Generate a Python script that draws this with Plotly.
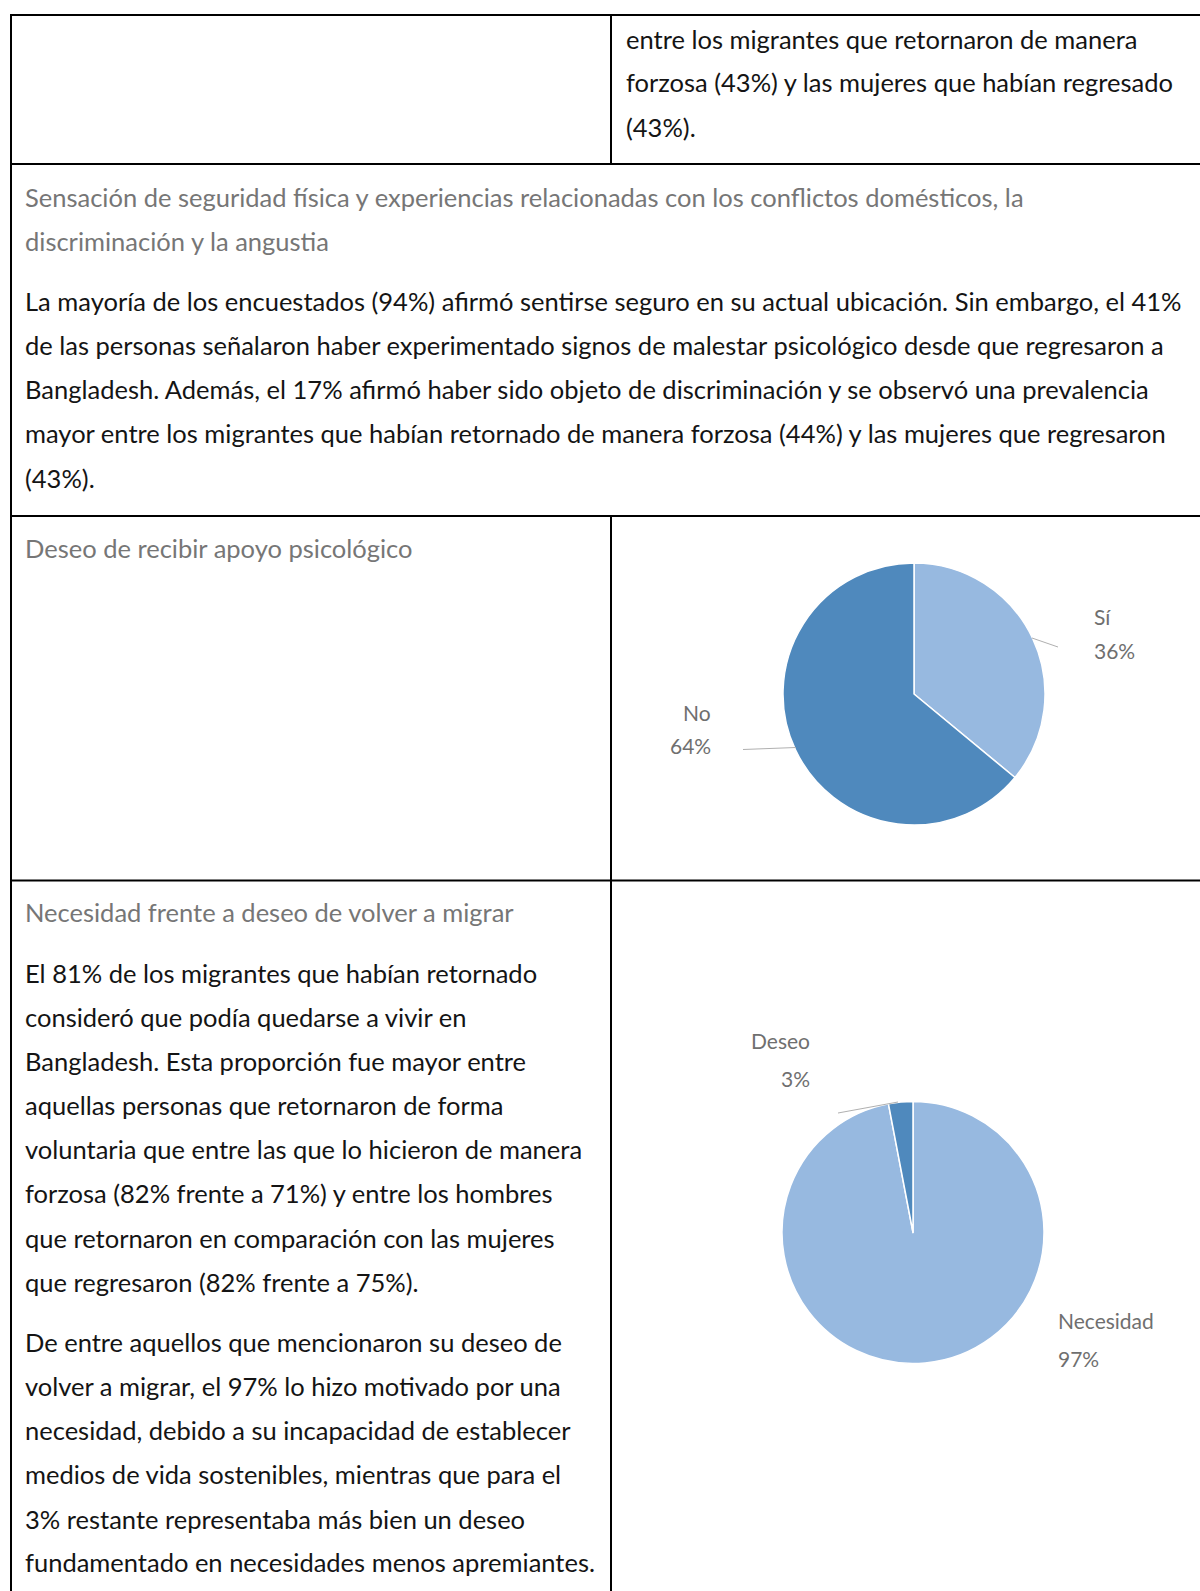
import plotly.graph_objects as go

W, H = 1200, 1591
FONT = "Lato"
TEXT_COLOR = "#141414"
HEAD_COLOR = "#767676"
LABEL_COLOR = "#6f6f6f"
LIGHT = "#97B9E0"
DARK = "#4F89BD"
BODY_SIZE = 25.5
LABEL_SIZE = 21

# ---- data ----
pie1_labels = ["Sí", "No"]
pie1_values = [36, 64]
pie2_labels = ["Necesidad", "Deseo"]
pie2_values = [97, 3]

row1_lines = [
    "entre los migrantes que retornaron de manera",
    "forzosa (43%) y las mujeres que habían regresado",
    "(43%).",
]
row2_head = [
    "Sensación de seguridad física y experiencias relacionadas con los conflictos domésticos, la",
    "discriminación y la angustia",
]
row2_lines = [
    "La mayoría de los encuestados (94%) afirmó sentirse seguro en su actual ubicación. Sin embargo, el 41%",
    "de las personas señalaron haber experimentado signos de malestar psicológico desde que regresaron a",
    "Bangladesh. Además, el 17% afirmó haber sido objeto de discriminación y se observó una prevalencia",
    "mayor entre los migrantes que habían retornado de manera forzosa (44%) y las mujeres que regresaron",
    "(43%).",
]
row3_head = ["Deseo de recibir apoyo psicológico"]
row4_head = ["Necesidad frente a deseo de volver a migrar"]
row4_para1 = [
    "El 81% de los migrantes que habían retornado",
    "consideró que podía quedarse a vivir en",
    "Bangladesh. Esta proporción fue mayor entre",
    "aquellas personas que retornaron de forma",
    "voluntaria que entre las que lo hicieron de manera",
    "forzosa (82% frente a 71%) y entre los hombres",
    "que retornaron en comparación con las mujeres",
    "que regresaron (82% frente a 75%).",
]
row4_para2 = [
    "De entre aquellos que mencionaron su deseo de",
    "volver a migrar, el 97% lo hizo motivado por una",
    "necesidad, debido a su incapacidad de establecer",
    "medios de vida sostenibles, mientras que para el",
    "3% restante representaba más bien un deseo",
    "fundamentado en necesidades menos apremiantes.",
]


def px(x):
    return x / W


def py(y):
    return 1 - y / H


fig = go.Figure()

fig.add_trace(go.Pie(
    labels=pie1_labels, values=pie1_values, sort=False, direction="clockwise",
    rotation=0, textinfo="none", hoverinfo="label+percent",
    marker=dict(colors=[LIGHT, DARK], line=dict(color="white", width=1.5)),
    domain=dict(x=[px(783), px(1045)], y=[py(825), py(563)]),
    showlegend=False,
))
fig.add_trace(go.Pie(
    labels=pie2_labels, values=pie2_values, sort=False, direction="clockwise",
    rotation=0, textinfo="none", hoverinfo="label+percent",
    marker=dict(colors=[LIGHT, DARK], line=dict(color="white", width=1.5)),
    domain=dict(x=[px(782), px(1044)], y=[py(1363.5), py(1101.5)]),
    showlegend=False,
))

shapes = []


def hline(y, x0=11, x1=1200):
    shapes.append(dict(type="line", xref="paper", yref="paper",
                       x0=px(x0), x1=px(x1), y0=py(y), y1=py(y),
                       line=dict(color="black", width=2)))


def vline(x, y0, y1):
    shapes.append(dict(type="line", xref="paper", yref="paper",
                       x0=px(x), x1=px(x), y0=py(y0), y1=py(y1),
                       line=dict(color="black", width=2)))


def leader(x0, y0, x1, y1):
    shapes.append(dict(type="line", xref="paper", yref="paper",
                       x0=px(x0), x1=px(x1), y0=py(y0), y1=py(y1),
                       line=dict(color="#b0b0b0", width=1)))


for yy in [15, 164, 516, 880.5]:
    hline(yy)
vline(11, 14, 1591)
vline(611, 14, 165)
vline(611, 515, 1591)

leader(1032, 638, 1058, 647)
leader(743, 749.5, 796, 747.5)
leader(838, 1113, 898, 1102)

annotations = []


def text_lines(lines, x, ys, color=TEXT_COLOR, size=BODY_SIZE, anchor="left"):
    for t, y in zip(lines, ys):
        annotations.append(dict(text=t, x=px(x), y=py(y), xref="paper", yref="paper",
                                xanchor=anchor, yanchor="middle", showarrow=False,
                                font=dict(family=FONT, size=size, color=color)))


text_lines(row1_lines, 624, [38.6, 82.2, 126.8])
text_lines(row2_head, 23, [196.8, 241.4], color=HEAD_COLOR)
text_lines(row2_lines, 23, [301.3, 344.9, 389.5, 433.1, 477.8])
text_lines(row3_head, 23, [547.8], color=HEAD_COLOR)
text_lines(row4_head, 23, [911.9], color=HEAD_COLOR)
text_lines(row4_para1, 23, [972.8, 1017.4, 1061.0, 1104.6, 1149.3, 1192.9, 1237.5, 1282.2])
text_lines(row4_para2, 23, [1342.0, 1385.7, 1430.3, 1473.9, 1518.5, 1562.1])

# pie labels
p1 = dict(zip(pie1_labels, pie1_values))
p2 = dict(zip(pie2_labels, pie2_values))
text_lines(["Sí", f"{p1['Sí']}%"], 1092, [616.7, 650.2], color=LABEL_COLOR, size=LABEL_SIZE)
text_lines(["No", f"{p1['No']}%"], 713, [712.1, 745.6], color=LABEL_COLOR, size=LABEL_SIZE, anchor="right")
text_lines(["Deseo", f"{p2['Deseo']}%"], 812, [1040.7, 1078.3], color=LABEL_COLOR, size=LABEL_SIZE, anchor="right")
text_lines(["Necesidad", f"{p2['Necesidad']}%"], 1056, [1320.7, 1358.2], color=LABEL_COLOR, size=LABEL_SIZE)

fig.update_layout(
    width=W, height=H, margin=dict(l=0, r=0, t=0, b=0),
    paper_bgcolor="white", plot_bgcolor="white",
    shapes=shapes, annotations=annotations,
    font=dict(family=FONT),
)

fig.write_html(
    "out.html",
    config={"displayModeBar": False},
    post_script="document.body.style.margin='0';document.body.style.overflow='hidden';",
)
